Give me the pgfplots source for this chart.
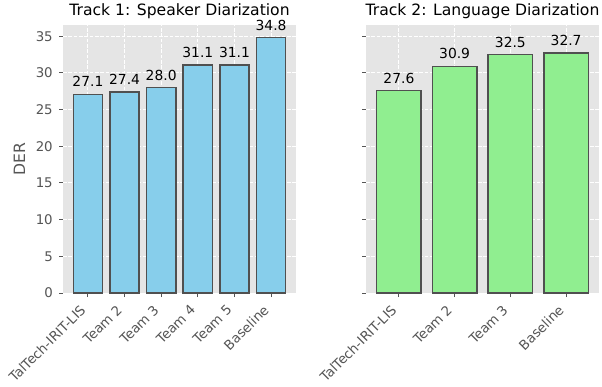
\documentclass[border=0pt]{standalone}
\usepackage{pgfplots}
\pgfplotsset{compat=1.18}
\usepackage{fontspec}
\setmainfont{DejaVu Sans}
\definecolor{skyb}{HTML}{87CEEB}
\definecolor{lgreen}{HTML}{90EE90}
\definecolor{bgg}{HTML}{E5E5E5}
\definecolor{tg}{HTML}{555555}
\definecolor{edg}{HTML}{505050}
\pgfplotsset{
 every axis title shift=0pt,
 myax/.style={
  scale only axis, width=174.75pt, height=201pt, anchor=south west,
  ymin=0, ymax=36.54, ytick={0,5,...,35},
  axis background/.style={fill=bgg},
  axis line style={draw=none},
  grid=major, major grid style={white, line width=0.75pt, dash pattern=on 2.8pt off 1.2pt},
  tick align=outside, xtick pos=bottom, ytick pos=left,
  major tick length=3pt,
  tick style={tg, line width=0.75pt},
  xtick=data,
  /pgf/number format/assume math mode=true,
  ticklabel style={font=\fontsize{10}{12}\selectfont, text=tg},
  xticklabel style={xshift=-6.5pt, yshift=-5pt, rotate=45, anchor=north east, inner sep=0pt},
  yticklabel style={inner sep=0pt, xshift=-4.5pt},
  title style={font=\fontsize{11.7}{14}\selectfont, at={(axis description cs:0.5,1.0336)}, anchor=base},
  ybar, bar width=0.8,
  nodes near coords={\pgfmathprintnumber[fixed,fixed zerofill,precision=1]{\pgfplotspointmeta}},
  every node near coord/.append style={font=\fontsize{10.4}{12}\selectfont, anchor=base, yshift=5.6pt, inner sep=0pt, text=black},
 }
}
\begin{document}
\begin{tikzpicture}
\path[use as bounding box] (0,0) rectangle (451.5pt,289.5pt);
\begin{axis}[myax, at={(47.25pt,69.75pt)}, xmin=-0.68, xmax=5.68,
 xticklabels={TalTech-IRIT-LIS,Team 2,Team 3,Team 4,Team 5,Baseline},
 title={Track 1: Speaker Diarization},
 ylabel={DER},
 ylabel style={font=\fontsize{11.7}{14}\selectfont, text=tg, at={(axis description cs:-0.1866,0.5)}, anchor=center}]
\addplot[fill=skyb, draw=edg, line width=1.1pt] coordinates {(0,27.1) (1,27.4) (2,28.0) (3,31.1) (4,31.1) (5,34.8)};
\end{axis}
\begin{axis}[myax, at={(274.5pt,69.75pt)}, xmin=-0.59, xmax=3.59,
 xticklabels={TalTech-IRIT-LIS,Team 2,Team 3,Baseline},
 yticklabels={},
 title={Track 2: Language Diarization}]
\addplot[fill=lgreen, draw=edg, line width=1.1pt] coordinates {(0,27.6) (1,30.9) (2,32.5) (3,32.7)};
\end{axis}
\end{tikzpicture}
\end{document}
